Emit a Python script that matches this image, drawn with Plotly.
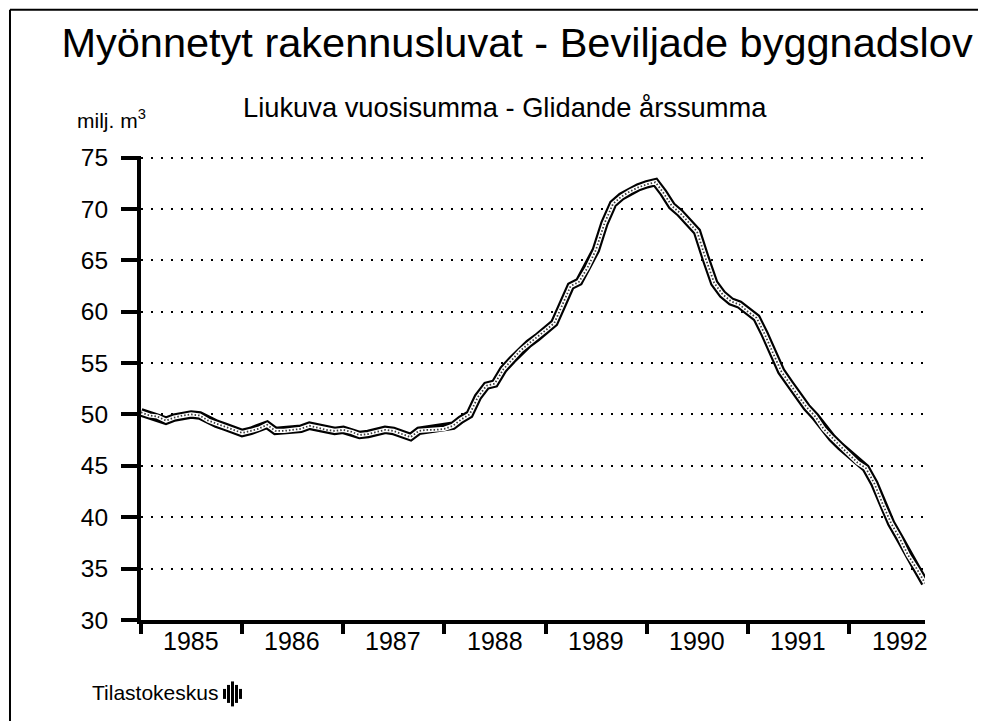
import pandas as pd
import plotly.graph_objects as go

# ---- data ----
START_MONTH = "1985-01-01"
VALUES = [
    50.2, 49.9, 49.8, 49.4, 49.7, 49.9, 50.0, 49.9, 49.4, 49.1, 48.8, 48.5,   # 1985
    48.2, 48.4, 48.6, 49.0, 48.4, 48.4, 48.5, 48.6, 48.9, 48.7, 48.5, 48.4,   # 1986
    48.5, 48.3, 48.0, 48.1, 48.3, 48.5, 48.4, 48.1, 47.8, 48.4, 48.5, 48.5,   # 1987
    48.6, 48.9, 49.5, 50.0, 51.7, 52.8, 53.0, 54.4, 55.3, 56.2, 56.9, 57.5,   # 1988
    58.2, 58.9, 60.6, 62.5, 62.9, 64.3, 66.0, 68.6, 70.5, 71.2, 71.7, 72.1,   # 1989
    72.4, 72.6, 71.6, 70.3, 69.6, 68.7, 67.8, 65.2, 62.8, 61.7, 61.0, 60.7,   # 1990
    60.0, 59.4, 57.9, 56.0, 54.2, 53.0, 51.8, 50.7, 49.8, 48.6, 47.7, 46.9,   # 1991
    46.1, 45.3, 44.8, 43.3, 41.3, 39.4, 38.0, 36.3, 35.0, 33.6,               # 1992
]
MONTHS = pd.date_range(START_MONTH, periods=len(VALUES), freq="MS")
YEARS = [1985, 1986, 1987, 1988, 1989, 1990, 1991, 1992]
Y_TICKS = [30, 35, 40, 45, 50, 55, 60, 65, 70, 75]

TITLE = "Myönnetyt rakennusluvat - Beviljade byggnadslov"
SUBTITLE = "Liukuva vuosisumma - Glidande årssumma"
UNIT = "milj. m<sup>3</sup>"
SOURCE = "Tilastokeskus"

FONT = "Liberation Sans, Arial, Helvetica, sans-serif"

fig = go.Figure()

# thick outlined "ribbon" line: black outline, white core, stipple dots
fig.add_trace(go.Scatter(x=MONTHS, y=VALUES, mode="lines",
                         line=dict(color="black", width=8.5), hoverinfo="skip"))
fig.add_trace(go.Scatter(x=MONTHS, y=VALUES, mode="lines",
                         line=dict(color="white", width=4.2), hoverinfo="skip"))
fig.add_trace(go.Scatter(x=MONTHS, y=VALUES, mode="lines",
                         line=dict(color="#3a3a3a", width=1.8, dash="1.5px,2px"),
                         hoverinfo="skip"))

year_starts = [pd.Timestamp(f"{y}-01-01") for y in YEARS]
year_mids = [pd.Timestamp(f"{y}-07-01") for y in YEARS]

fig.update_layout(
    width=978, height=713,
    paper_bgcolor="white", plot_bgcolor="white",
    showlegend=False,
    margin=dict(l=133, r=61, t=147.5, b=101),
    font=dict(family=FONT, color="black"),
    title=dict(text=TITLE, x=0.5205, xanchor="center", y=0.9523, yanchor="middle",
               font=dict(size=41.5, family=FONT, color="black")),
    xaxis=dict(
        type="date",
        range=[MONTHS[0], MONTHS[-1]],
        tickmode="array", tickvals=year_starts, ticktext=[""] * len(YEARS),
        ticks="outside", ticklen=10, tickwidth=3.5, tickcolor="black",
        showline=True, linewidth=4, linecolor="black",
        showgrid=False, zeroline=False,
    ),
    yaxis=dict(
        range=[30, 75.15],
        tickmode="array", tickvals=Y_TICKS, ticktext=[str(v) for v in Y_TICKS],
        ticks="outside", ticklen=16, tickwidth=4, tickcolor="black",
        ticklabelstandoff=8,
        tickfont=dict(size=24.5, family=FONT, color="black"),
        showline=True, linewidth=4, linecolor="black",
        showgrid=True, gridcolor="black", gridwidth=1.8, griddash="1.8px,8.2px",
        zeroline=False,
    ),
)

# year labels centred in each year period
for y, mid in zip(YEARS, year_mids):
    fig.add_annotation(x=mid, y=0, xref="x", yref="paper", text=str(y),
                       showarrow=False, yanchor="top", yshift=-5,
                       font=dict(size=25, family=FONT, color="black"))

fig.add_annotation(x=0.464, y=1.1044, xref="paper", yref="paper", text=SUBTITLE,
                   showarrow=False, xanchor="center", yanchor="middle",
                   font=dict(size=27.3, family=FONT, color="black"))
fig.add_annotation(x=-0.0842, y=1.0807, xref="paper", yref="paper", text=UNIT,
                   showarrow=False, xanchor="left", yanchor="middle",
                   font=dict(size=21, family=FONT, color="black"))
fig.add_annotation(x=-0.065, y=-0.1572, xref="paper", yref="paper", text=SOURCE,
                   showarrow=False, xanchor="left", yanchor="middle",
                   font=dict(size=21, family=FONT, color="black"))

# outer frame (top and left edges visible in the reference)
fig.add_shape(type="line", xref="paper", yref="paper",
              x0=-0.1671, x1=1.1, y0=1.3154, y1=1.3154,
              line=dict(color="black", width=2))
fig.add_shape(type="line", xref="paper", yref="paper",
              x0=-0.1671, x1=-0.1671, y0=1.3154, y1=-0.3,
              line=dict(color="black", width=2))

# small Tilastokeskus logo (decorative vertical bars)
logo_bars = [(223, 10), (227, 18), (231, 25), (235, 18), (239, 10)]
for bx, bh in logo_bars:
    x0 = (bx - 141) / 784
    x1 = (bx + 3 - 141) / 784
    yc = (620 - 694) / 464.5
    fig.add_shape(type="rect", xref="paper", yref="paper",
                  x0=x0, x1=x1, y0=yc - bh / 2 / 464.5, y1=yc + bh / 2 / 464.5,
                  line=dict(width=0), fillcolor="black")

fig.write_html("out.html")
